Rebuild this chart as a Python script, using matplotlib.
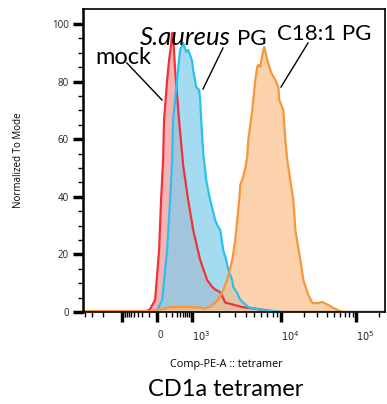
import numpy as np
import matplotlib
matplotlib.use("Agg")
import matplotlib.pyplot as plt
from matplotlib.lines import Line2D
from matplotlib.ticker import FixedLocator, FixedFormatter, NullFormatter

# histogram traces, x = fluorescence (Comp-PE-A), y = % of mode
mock_x = [-4260, -152, -81, -22, 22, 45, 69, 81, 122, 152, 185, 204, 223, 265,
          366, 505, 740, 1027, 1232, 1477, 1682, 1818, 2070, 2355, 3653, 6615,
          8565, 240000]
mock_y = [0, 0, 1.0, 4.2, 21.5, 38.9, 52.8, 66.7, 80.6, 87.5, 93.0, 96.9, 96.0,
          84.0, 66.7, 51.0, 38.9, 28.5, 18.1, 11.1, 8.7, 7.8, 6.9, 3.3, 1.7, 0.7,
          0, 0]

sa_x = [-4260, -57, 0, 57, 122, 168, 204, 223, 312, 396, 505, 636, 740, 928,
        1000, 1027, 1110, 1200, 1232, 1265, 1332, 1403, 1439, 1597, 1818, 1965,
        2070, 2235, 2417, 2544, 2822, 2895, 3209, 3471, 4264, 6128, 10300, 240000]
sa_y = [0, 0, 0.5, 4.2, 21.5, 38.9, 52.8, 66.7, 80.6, 91.0, 93.4, 90.3, 91.0,
        88.2, 87.0, 84.0, 78.1, 77.1, 73.6, 66.7, 55.2, 49.3, 45.8, 38.9, 31.9,
        29.5, 28.5, 21.5, 18.1, 14.6, 11.1, 8.7, 6.6, 4.2, 1.7, 0.7, 0, 0]

c18_x = [-4260, -81, 0, 94, 168, 396, 861, 1232, 1332, 1597, 1965, 2235, 2478,
         2822, 3050, 3209, 3381, 3471, 3750, 3951, 4155, 4264, 4733, 5115, 5385,
         5520, 5820, 6128, 6450, 6615, 6965, 7530, 7935, 8565, 9255, 9495, 10630,
         11310, 12020, 13180, 14450, 15370, 17920, 19650, 22900, 25900, 31100,
         35200, 42300, 49300, 61100, 67100, 240000]
c18_y = [0.3, 0.3, 0.7, 1.2, 1.7, 1.7, 1.7, 1.5, 1.2, 1.8, 4.2, 7.6, 11.1,
         18.1, 25.0, 31.9, 38.9, 44.1, 47.0, 50.0, 54.0, 59.7, 70.1, 80.6, 85.1,
         85.8, 85.1, 89.2, 92.0, 90.5, 87.5, 84.0, 82.3, 80.6, 78.1, 73.6, 70.1,
         59.7, 52.8, 45.8, 38.9, 28.5, 18.1, 11.1, 5.9, 3.1, 3.1, 3.5, 2.4, 1.4,
         0.3, 0, 0]

x_major = [-1000, 0, 1000, 10000, 100000]
x_major_labels = ["", "0", "$10^3$", "$10^4$", "$10^5$"]
x_minor = ([-4000, -3000, -2000] + list(range(-900, 0, 100)) + list(range(100, 1000, 100))
           + list(range(2000, 10000, 1000)) + list(range(20000, 100000, 10000)) + [200000])
x_lim = (-4260, 240000)

# biexponential-like display transform (FlowJo style axis)
S_ANCH = np.array([-20, -4.893, -2.596, 0, 2.596, 4.893, 7.195, 20])
P_ANCH = np.array([-347.9, 60, 122, 157, 192, 281, 356, 773.4])


def fwd(x):
    return np.interp(np.arcsinh(np.asarray(x, dtype=float) / 150.0), S_ANCH, P_ANCH)


def inv(p):
    return 150.0 * np.sinh(np.interp(np.asarray(p, dtype=float), P_ANCH, S_ANCH))


fig = plt.figure(figsize=(3.87, 4.04), dpi=100)
ax = fig.add_axes([0.2145, 0.2277, 0.7804, 0.7500])
ax.set_xscale("function", functions=(fwd, inv))

red = "#ee3338"
blue = "#2cc0f0"
orange = "#f7963a"

ax.fill_between(mock_x, mock_y, color="#f28a8f", alpha=0.65, lw=0)
ax.plot(mock_x, mock_y, color=red, lw=1.6)
ax.fill_between(sa_x, sa_y, color="#7fcdec", alpha=0.7, lw=0)
ax.plot(sa_x, sa_y, color=blue, lw=1.6)
ax.fill_between(c18_x, c18_y, color="#fbbf8a", alpha=0.7, lw=0)
ax.plot(c18_x, c18_y, color=orange, lw=1.6)

ax.set_xlim(*x_lim)
ax.set_ylim(0, 105.2)

ax.xaxis.set_major_locator(FixedLocator(x_major))
ax.xaxis.set_major_formatter(FixedFormatter(x_major_labels))
ax.xaxis.set_minor_locator(FixedLocator(x_minor))
ax.xaxis.set_minor_formatter(NullFormatter())
ax.set_yticks([0, 20, 40, 60, 80, 100])
ax.set_yticks(range(0, 105, 5), minor=True)

ax.tick_params(axis="both", which="major", length=7, width=2.5, color="black",
               labelsize=7, labelcolor="#222222")
ax.tick_params(axis="both", which="minor", length=3.5, width=1, color="black")
ax.tick_params(axis="x", which="major", pad=6)
ax.tick_params(axis="y", which="major", pad=3)
for lab in ax.get_xticklabels():
    lab.set_horizontalalignment("left")
    lab.set_fontfamily("Open Sans")
for lab in ax.get_yticklabels():
    lab.set_fontfamily("Open Sans")

for sp in ax.spines.values():
    sp.set_linewidth(1.2)
ax.spines["left"].set_linewidth(1.8)

ax.set_ylabel("Normalized To Mode", fontsize=7, family="Open Sans", labelpad=20)
fig.text(0.584, 0.097, "Comp-PE-A :: tetramer", fontsize=7.8, family="Open Sans",
         ha="center", va="center")
fig.text(0.584, 0.035, "CD1a tetramer", fontsize=17, family="Lato",
         ha="center", va="center")

# curve labels and leader lines (figure coordinates)
fig.text(0.2455, 0.8416, "mock", fontsize=17, family="Lato", va="baseline")
fig.text(0.3618, 0.8886, "S.aureus", fontsize=18.5, family="Lato", style="italic",
         va="baseline")
fig.text(0.612, 0.8886, "PG", fontsize=16, family="Lato", va="baseline")
fig.text(0.7158, 0.901, "C18:1 PG", fontsize=16, family="Lato", va="baseline")
for x0, y0, x1, y1 in [(0.328, 0.844, 0.4186, 0.7525),
                       (0.5762, 0.8812, 0.5245, 0.7797),
                       (0.7959, 0.8936, 0.7261, 0.7847)]:
    fig.add_artist(Line2D([x0, x1], [y0, y1], transform=fig.transFigure,
                          color="black", lw=1))

fig.savefig("out.png", dpi=100)
